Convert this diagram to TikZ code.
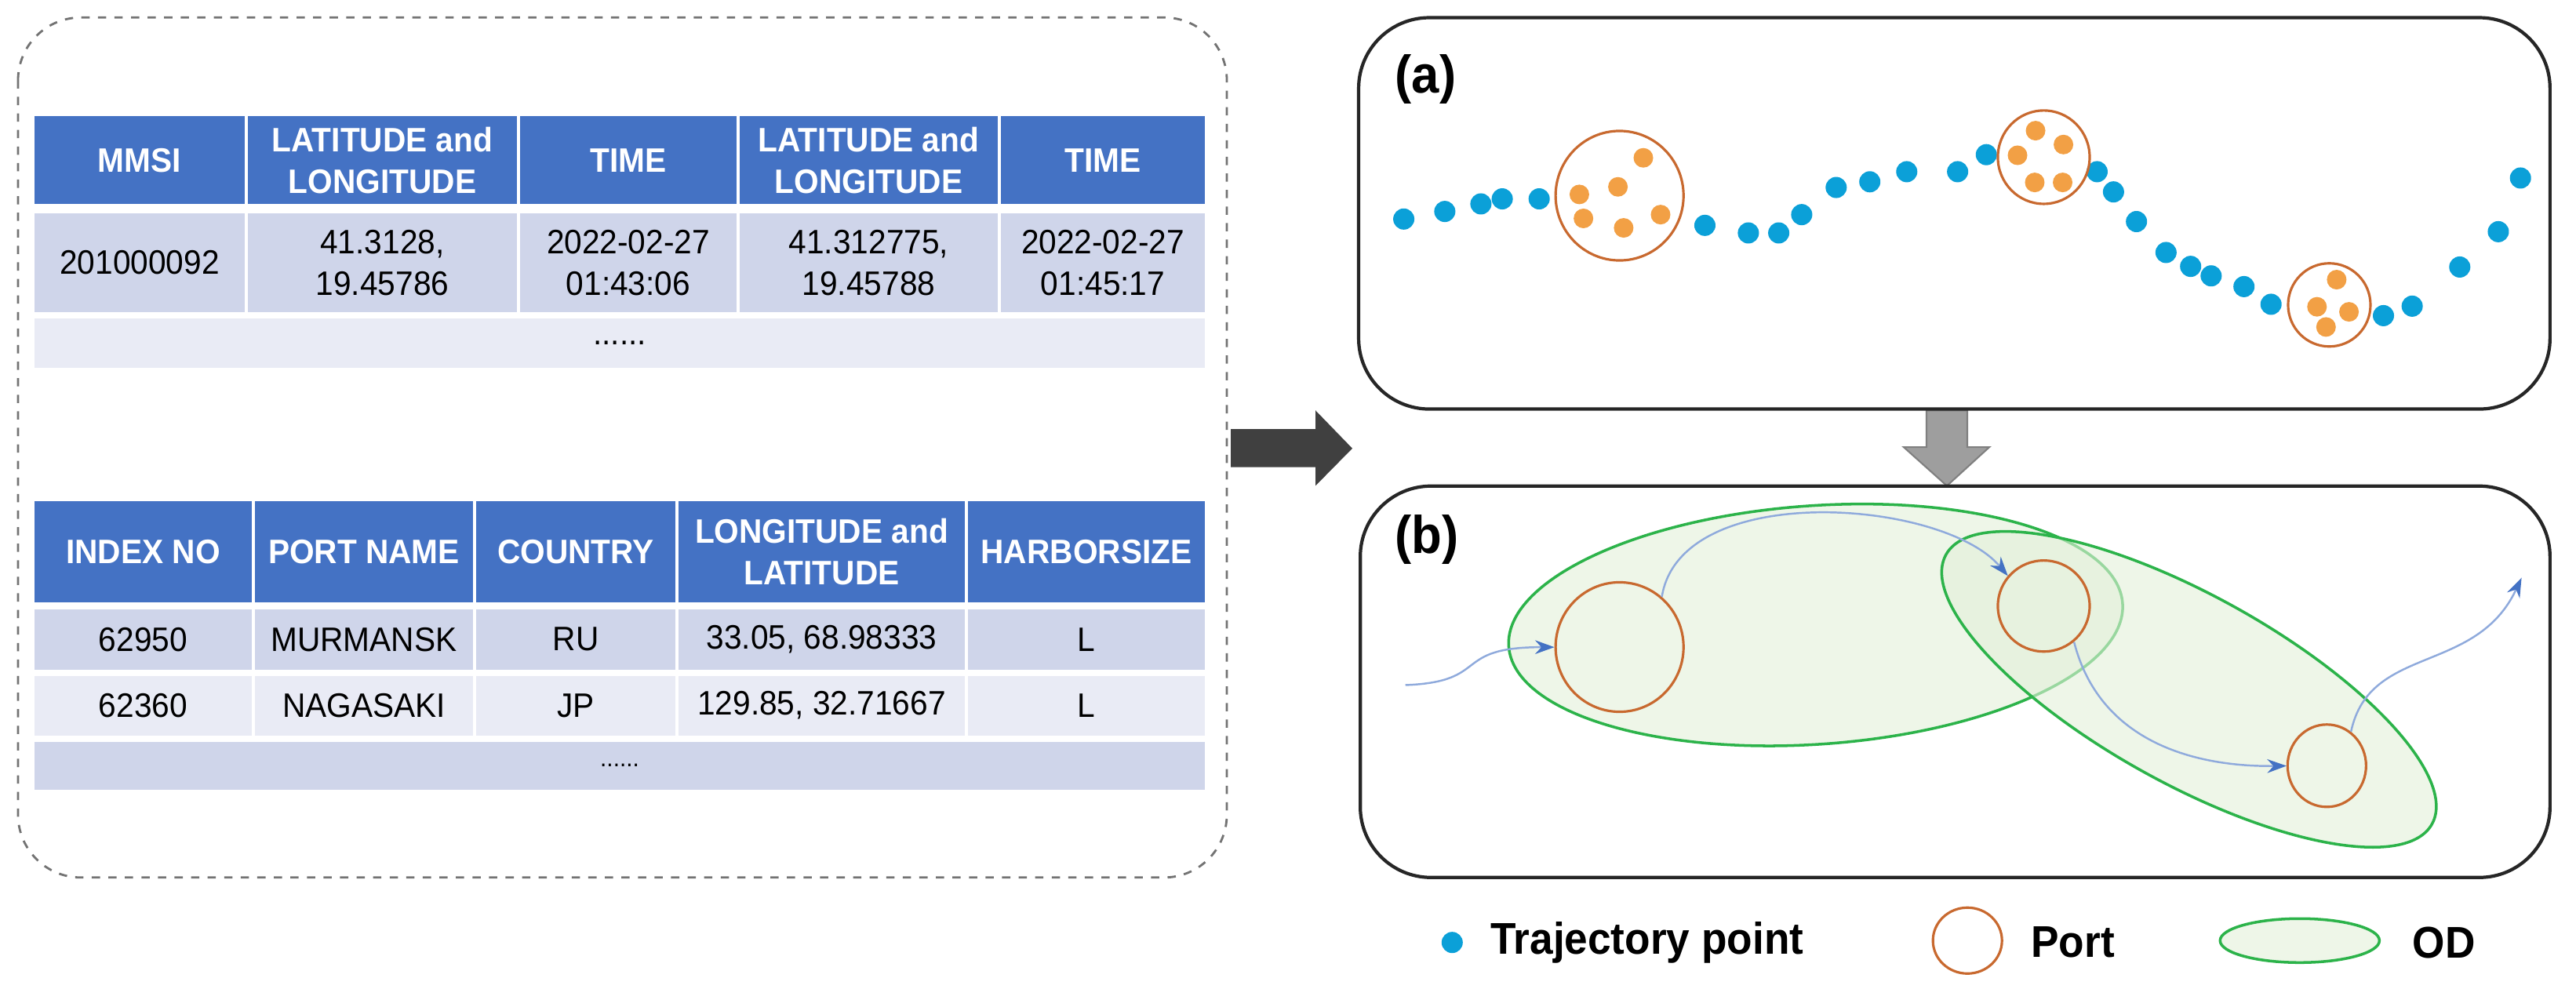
\documentclass[tikz,border=0pt]{standalone}
\usepackage{fontspec}
\setmainfont{Liberation Sans}[FakeStretch=0.94]
\usetikzlibrary{
    shapes.geometric,
    arrows.meta,
    positioning,
}
\definecolor{hdblue}{HTML}{4472C4}
\definecolor{rowdark}{HTML}{CFD5EA}
\definecolor{rowlight}{HTML}{E9EBF5}
\definecolor{trajblue}{HTML}{0BA0D8}
\definecolor{stayorange}{HTML}{F2A045}
\definecolor{portline}{HTML}{C8692F}
\definecolor{odgreen}{HTML}{2CB34A}
\definecolor{odfill}{HTML}{E2F0D9}
\definecolor{flowblue}{HTML}{8FAADC}
\tikzstyle{hcell} = [rectangle, draw=white, line width=0.04cm, fill=hdblue,
    text=white, font=\fontsize{12.3}{15}\selectfont\bfseries, align=center, inner sep=0pt]
\tikzstyle{dcell} = [rectangle, draw=white, line width=0.04cm, fill=rowdark,
    font=\fontsize{12.3}{15}\selectfont, align=center, inner sep=0pt]
\tikzstyle{lcell} = [dcell, fill=rowlight]
\tikzstyle{traj} = [circle, fill=trajblue, minimum size=0.27cm, inner sep=0pt]
\tikzstyle{stay} = [circle, fill=stayorange, minimum size=0.25cm, inner sep=0pt]
\tikzstyle{port} = [ellipse, draw=portline, line width=0.9pt, inner sep=0pt]
\tikzstyle{od} = [ellipse, draw=odgreen, line width=1pt, fill=odfill, fill opacity=0.6, inner sep=0pt]
\tikzstyle{panel} = [draw=black!85, line width=1.2pt, rounded corners=0.9cm]
\tikzstyle{flow} = [draw=flowblue, line width=0.7pt, -{Stealth[length=7pt,width=5pt,color=hdblue]}]
\tikzstyle{tag} = [font=\fontsize{19.2}{23}\selectfont\bfseries, anchor=west, inner sep=0pt]
\tikzstyle{legend} = [font=\fontsize{16.1}{19}\selectfont\bfseries, anchor=west, inner sep=0pt]

\begin{document}
\begin{tikzpicture}[x=0.01cm, y=-0.00769cm]
        \useasboundingbox (0,0) rectangle (3284,1638.5);
        % Left frame
        \draw [dashed, draw=black!55, line width=0.8pt, rounded corners=0.8cm] (23,29) rectangle (1564,1454);
        % AIS table
        \foreach \cx/\w/\t [count=\i] in {178/2.72/MMSI, 487.5/3.47/{LATITUDE and\\LONGITUDE},
            801/2.80/TIME, 1107.5/3.33/{LATITUDE and\\LONGITUDE}, 1406/2.64/TIME}
            \node [hcell, minimum width=\w cm, minimum height=1.16cm] (ais_h\i) at (\cx,265.5) {\t};
        \foreach \cx/\w/\t [count=\i] in {178/2.72/201000092, 487.5/3.47/{41.3128,\\19.45786},
            801/2.80/{2022-02-27\\01:43:06}, 1107.5/3.33/{41.312775,\\19.45788}, 1406/2.64/{2022-02-27\\01:45:17}}
            \node [dcell, minimum width=\w cm, minimum height=1.30cm] (ais_r\i) at (\cx,435.5) {\t};
        \node [lcell, minimum width=14.96cm, minimum height=0.67cm] (ais_more) at (790,568.5) {......};
        % Port table
        \foreach \cx/\w/\t [count=\i] in {182.5/2.81/INDEX NO, 464/2.82/PORT NAME, 734/2.58/COUNTRY,
            1047.5/3.69/{LONGITUDE and\\LATITUDE}, 1385/3.06/HARBORSIZE}
            \node [hcell, minimum width=\w cm, minimum height=1.33cm] (wpi_h\i) at (\cx,914.5) {\t};
        \foreach \cx/\w/\t [count=\i] in {182.5/2.81/62950, 464/2.82/MURMANSK, 734/2.58/RU,
            1047.5/3.69/{33.05, 68.98333}, 1385/3.06/L}
            \node [dcell, minimum width=\w cm, minimum height=0.81cm] (wpi_a\i) at (\cx,1059.5) {\t};
        \foreach \cx/\w/\t [count=\i] in {182.5/2.81/62360, 464/2.82/NAGASAKI, 734/2.58/JP,
            1047.5/3.69/{129.85, 32.71667}, 1385/3.06/L}
            \node [lcell, minimum width=\w cm, minimum height=0.80cm] (wpi_b\i) at (\cx,1169) {\t};
        \node [dcell, minimum width=14.96cm, minimum height=0.65cm, font=\fontsize{9}{11}\selectfont] (wpi_more) at (790,1268.5) {......};
        % Block arrows
        \fill [black!75] (1569,711) -- (1677,711) -- (1677,680) -- (1724,743) -- (1677,805)
            -- (1677,774) -- (1569,774) -- cycle;
        \filldraw [fill=black!38, draw=black!50, line width=0.6pt] (2456,680) -- (2508,680) -- (2508,741)
            -- (2536,741) -- (2482,805) -- (2427,741) -- (2456,741) -- cycle;
        \begin{scope}[shift={(1640,0)}, scale=1.046]
            % Panel (a)
            \draw [panel] (88,28) rectangle (1540,648);
            \node [tag] (tag_a) at (132,125) {(a)};
            \foreach \px/\py in {143/347, 193/335, 237/323, 263/315, 308/315, 510/357, 563/369,
                600/369, 628/340, 670/297, 711/288, 756/272, 818/272, 853/245, 988/272, 1008/304,
                1036/351, 1072/400, 1102/422, 1127/437, 1167/454, 1200/482, 1337/500, 1372/485,
                1430/423, 1477/367, 1504/282}
                \node [traj] at (\px,\py) {};
            \foreach \px/\py in {435/250, 357/308, 404/296, 362/346, 411/361, 456/340,
                913/207, 947/229, 891/246, 912/289, 946/289,
                1280/443, 1256/486, 1295/494, 1267/518}
                \node [stay] at (\px,\py) {};
            \node [port, minimum width=1.63cm, minimum height=1.65cm] (stay1) at (406,310) {};
            \node [port, minimum width=1.17cm, minimum height=1.19cm] (stay2) at (923,249) {};
            \node [port, minimum width=1.05cm, minimum height=1.06cm] (stay3) at (1271,483) {};
            % Panel (b)
            \draw [panel] (90,770) rectangle (1540,1390);
            \node [tag] (tag_b) at (132,855) {(b)};
            \node [od, rotate=4, minimum width=7.84cm, minimum height=3.04cm] (od1) at (645,990) {};
            \node [od, rotate=-29, minimum width=7.08cm, minimum height=2.4cm] (od2) at (1100,1092) {};
            \node [port, minimum width=1.63cm, minimum height=1.65cm] (p1) at (406,1025) {};
            \node [port, minimum width=1.17cm, minimum height=1.16cm] (p2) at (923,960) {};
            \node [port, minimum width=1.00cm, minimum height=1.05cm] (p3) at (1268,1213) {};
            \coordinate (start) at (145,1085);
            \coordinate (end) at (1505,915);
            % Draw edges
            \path [flow] (start) .. controls (250,1080) and (200,1025) .. (p1.west);
            \path [flow] (p1.50) .. controls (480,760) and (800,790) .. (p2.140);
            \path [flow] (p2.-50) .. controls (990,1170) and (1100,1215) .. (p3.west);
            \path [flow] (p3.55) .. controls (1320,1020) and (1450,1070) .. (end);
            % Legend
            \node [traj] (lg_traj) at (202,1493) {};
            \node [legend] (lg_traj_t) at (248,1493) {Trajectory point};
            \node [port, minimum width=0.88cm, minimum height=0.84cm] (lg_port) at (830,1490) {};
            \node [legend] (lg_port_t) at (907,1493) {Port};
            \node [od, minimum width=2.03cm, minimum height=0.56cm] (lg_od) at (1235,1490) {};
            \node [legend] (lg_od_t) at (1372,1493) {OD};
        \end{scope}
    \end{tikzpicture}
\end{document}
